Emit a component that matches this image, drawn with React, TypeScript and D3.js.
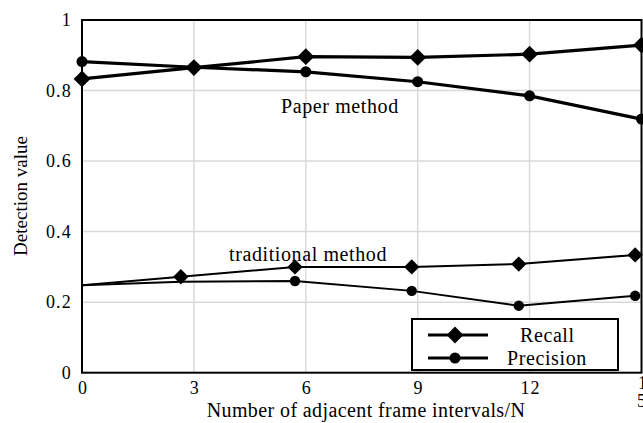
import React, { useEffect, useRef } from 'react'
import * as d3 from 'd3'

// upper group ("Paper method")
const paperX = [0, 3, 6, 9, 12, 15]
const paperRecall = [0.833, 0.865, 0.896, 0.894, 0.903, 0.929]
const paperPrecision = [0.882, 0.866, 0.853, 0.825, 0.785, 0.719]

// lower group ("traditional method")
const tradX = [0, 2.65, 5.71, 8.84, 11.71, 14.83]
const tradRecall = [0.248, 0.272, 0.3, 0.3, 0.308, 0.334]
const tradPrecision = [0.248, 0.258, 0.26, 0.232, 0.19, 0.218]
const tradRecallMarked = [false, true, true, true, true, true]
const tradPrecisionMarked = [false, false, true, true, true, true]

const xTicks = [0, 3, 6, 9, 12]
const yTicks = [0, 0.2, 0.4, 0.6, 0.8, 1]
const gridX = [3, 6, 9, 12]
const gridY = [0.2, 0.4, 0.6, 0.8]

const W = 643
const H = 423
const FONT = '"Liberation Serif", "Times New Roman", serif'

function App() {
  const ref = useRef<SVGSVGElement>(null)

  useEffect(() => {
    const svg = d3.select(ref.current)
    svg.selectAll('*').remove()

    const left = 82
    const right = 641.5
    const top = 20
    const bottom = 372.7

    const x = d3.scaleLinear().domain([0, 15]).range([left, right])
    const y = d3.scaleLinear().domain([0, 1]).range([bottom, top])

    const txt = (sel: any, size = 20, ls = 0.6) =>
      sel.style('font-family', FONT).style('font-size', size + 'px')
        .style('letter-spacing', ls + 'px').attr('fill', '#000')

    // grid
    svg.append('g').selectAll('line').data(gridX).enter().append('line')
      .attr('x1', d => x(d)).attr('x2', d => x(d))
      .attr('y1', top).attr('y2', bottom)
      .attr('stroke', '#d9d9d9').attr('stroke-width', 1.5)
    svg.append('g').selectAll('line').data(gridY).enter().append('line')
      .attr('x1', left).attr('x2', right)
      .attr('y1', d => y(d)).attr('y2', d => y(d))
      .attr('stroke', '#d9d9d9').attr('stroke-width', 1.5)

    // frame
    svg.append('rect')
      .attr('x', left).attr('y', top)
      .attr('width', right - left).attr('height', bottom - top)
      .attr('fill', 'none').attr('stroke', '#000').attr('stroke-width', 2)

    // tick labels
    txt(svg.append('g').selectAll('text').data(yTicks).enter().append('text')
      .attr('x', 72).attr('y', d => y(d)).attr('dy', '0.35em')
      .attr('text-anchor', 'end')
      .text(d => String(d)), 18, 1.2)
    txt(svg.append('g').selectAll('text').data(xTicks).enter().append('text')
      .attr('x', d => x(d) + 1).attr('y', 394)
      .attr('text-anchor', 'middle')
      .text(d => String(d)), 18, 1.2)
    // the "15" label wraps and gets cut at the edge
    txt(svg.append('text').attr('x', 638).attr('y', 389).text('1'), 18, 0)
    txt(svg.append('text').attr('x', 637).attr('y', 407).text('5'), 18, 0)

    // axis titles
    txt(svg.append('text')
      .attr('x', 366).attr('y', 417)
      .attr('text-anchor', 'middle')
      .text('Number of adjacent frame intervals/N'), 20, 0.4)
    txt(svg.append('text')
      .attr('transform', 'translate(27,' + 196 + ') rotate(-90)')
      .attr('text-anchor', 'middle')
      .text('Detection value'), 19, 0)

    const line = d3.line<[number, number]>().x(d => x(d[0])).y(d => y(d[1]))
    const diamond = (s: number) => d3.symbol().type(d3.symbolDiamond2).size(s)()
    const circle = (s: number) => d3.symbol().type(d3.symbolCircle).size(s)()

    const series = [
      { xs: paperX, ys: paperRecall, marked: paperX.map(() => true), w: 3.2, shape: diamond(180) },
      { xs: paperX, ys: paperPrecision, marked: paperX.map(() => true), w: 3.2, shape: circle(95) },
      { xs: tradX, ys: tradRecall, marked: tradRecallMarked, w: 2, shape: diamond(150) },
      { xs: tradX, ys: tradPrecision, marked: tradPrecisionMarked, w: 2, shape: circle(85) },
    ]

    series.forEach(s => {
      const pts = s.xs.map((v, i) => [v, s.ys[i]] as [number, number])
      svg.append('path')
        .attr('d', line(pts))
        .attr('fill', 'none').attr('stroke', '#000').attr('stroke-width', s.w)
      svg.append('g').selectAll('path')
        .data(pts.filter((_, i) => s.marked[i]))
        .enter().append('path')
        .attr('d', s.shape)
        .attr('transform', d => 'translate(' + x(d[0]) + ',' + y(d[1]) + ')')
        .attr('fill', '#000')
    })

    // annotations
    txt(svg.append('text').attr('x', 281).attr('y', 113).text('Paper method'))
    txt(svg.append('text').attr('x', 229).attr('y', 261).text('traditional method'))

    // legend
    const lg = svg.append('g')
    lg.append('rect')
      .attr('x', 412).attr('y', 319).attr('width', 206).attr('height', 51)
      .attr('fill', '#fff').attr('stroke', '#000').attr('stroke-width', 2)
    const legendRows = [
      { label: 'Recall', yy: 335, shape: diamond(180), tx: 520 },
      { label: 'Precision', yy: 358, shape: circle(95), tx: 507 },
    ]
    legendRows.forEach(r => {
      lg.append('line').attr('x1', 428).attr('x2', 488)
        .attr('y1', r.yy).attr('y2', r.yy)
        .attr('stroke', '#000').attr('stroke-width', 3)
      lg.append('path').attr('d', r.shape)
        .attr('transform', 'translate(455,' + r.yy + ')').attr('fill', '#000')
      txt(lg.append('text').attr('x', r.tx).attr('y', r.yy).attr('dy', '0.35em').text(r.label), 20, 0.6)
    })
  }, [])

  return (
    <svg ref={ref} width={W} height={H}
      style={{ position: 'absolute', left: 0, top: 0, background: '#fff' }} />
  )
}

export default App
